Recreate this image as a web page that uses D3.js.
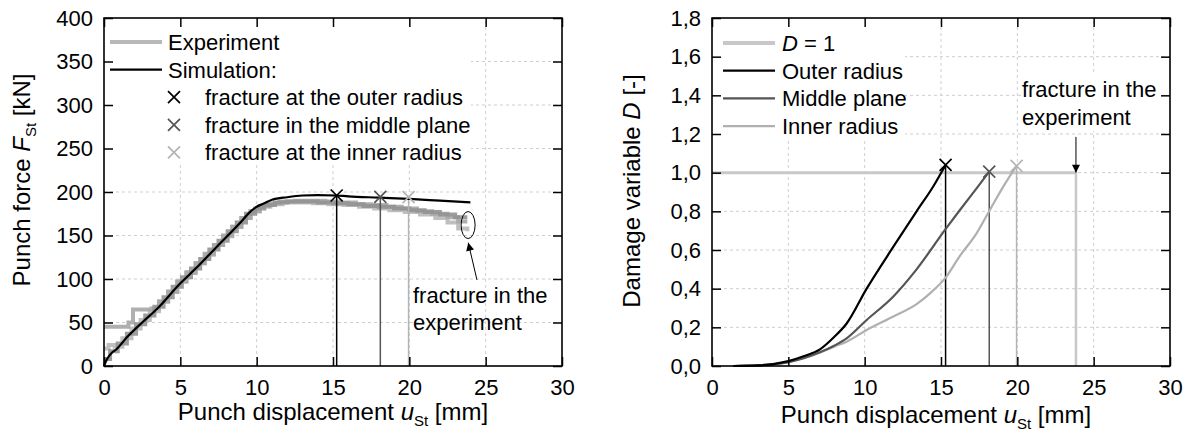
<!DOCTYPE html>
<html>
<head>
<meta charset="utf-8">
<script src="https://cdn.jsdelivr.net/npm/d3@7"></script>
<style>
  html, body { margin: 0; padding: 0; background: #fff; }
  svg { display: block; font-family: "Liberation Sans", Arial, sans-serif; }
</style>
</head>
<body>
<svg id="chart" width="1192" height="440"></svg>
<script>
// ---------------- DATA ----------------
const xTicks = [0, 5, 10, 15, 20, 25, 30];
const forceTicks = [0, 50, 100, 150, 200, 250, 300, 350, 400];
const damageTicks = [0, 0.2, 0.4, 0.6, 0.8, 1.0, 1.2, 1.4, 1.6, 1.8];
const damageTickLabels = ["0,0", "0,2", "0,4", "0,6", "0,8", "1,0", "1,2", "1,4", "1,6", "1,8"];

// Left chart: simulation force curve
const simX = [0, 0.2, 0.5, 0.8, 1.5, 2.5, 3.5, 5, 6, 7, 8, 9, 9.5, 10, 10.5, 11, 12, 13, 14, 15.2, 16, 18, 20, 22, 24];
const simF = [0, 8, 15, 19, 33, 50, 66, 95, 112, 130, 148, 166, 176, 183, 187, 191, 194, 196, 196.5, 196, 195, 193.5, 192, 190, 188];

// Left chart: experiments (step-sampled)
const expAX = [0, 0.4, 0.9, 1.5, 2.1, 2.7, 3.3, 3.9, 4.5, 5.1, 5.7, 6.3, 6.9, 7.5, 8.1, 8.7, 9.3, 9.9, 10.5, 11.2, 12.0, 13.0, 14.0, 15.0, 16.0, 17.0, 18.0, 19.0, 20.0, 21.0, 22.0, 23.0, 23.8];
const expAF = [8, 17, 26, 37, 48, 58, 68, 79, 91, 102, 112, 123, 134, 144, 155, 165, 175, 181, 185, 188, 189, 189, 188, 187, 186, 184, 183, 181, 179, 177, 174, 171, 171];
const expBX = [0, 1.6, 1.9, 3.1, 3.6, 4.2, 4.8, 5.4, 6.0, 6.6, 7.2, 7.8, 8.4, 9.0, 9.6, 10.2, 10.8, 11.5, 12.5, 13.5, 14.5, 15.5, 16.5, 17.5, 18.5, 19.5, 20.5, 21.5, 22.5, 23.2, 23.8];
const expBF = [45, 50, 65, 66, 74, 85, 97, 107, 118, 129, 139, 150, 160, 170, 178, 184, 187, 189, 190, 190, 189, 188, 186, 185, 183, 181, 178, 175, 171, 166, 166];
const expCX = [0, 0.3, 0.7, 1.2, 1.8, 2.4, 3.0, 3.6, 4.2, 4.8, 5.4, 6.0, 6.6, 7.2, 7.8, 8.4, 9.0, 9.6, 10.2, 10.9, 11.7, 12.7, 13.7, 14.7, 15.7, 16.7, 17.7, 18.7, 19.7, 20.7, 21.7, 22.5, 23.2, 23.8];
const expCF = [20, 24, 22, 32, 43, 53, 63, 74, 86, 97, 108, 118, 128, 139, 149, 160, 170, 178, 183, 186, 188, 188, 187, 186, 185, 183, 181, 179, 177, 174, 170, 165, 158, 155];

// Fracture points (left chart)
const fracU = [15.24, 18.1, 19.95];
const fracF = [196, 194.5, 194];

// Right chart: damage curves
const outerX = [1.4, 3, 4, 5, 6, 7.07, 8, 8.82, 10.13, 11.88, 13.4, 14.5, 15.3];
const outerD = [0, 0.003, 0.01, 0.025, 0.05, 0.086, 0.15, 0.22, 0.40, 0.617, 0.80, 0.93, 1.04];
const middleX = [1.4, 3, 4, 5, 6, 7.1, 8.0, 8.82, 10.13, 11.88, 13.4, 15.26, 16.24, 17.33, 18.16];
const middleD = [0, 0.003, 0.008, 0.02, 0.04, 0.072, 0.105, 0.143, 0.238, 0.36, 0.5, 0.704, 0.807, 0.919, 1.005];
const innerX = [1.4, 3, 4, 5, 6, 7.1, 8.0, 8.82, 10.13, 11.88, 13.4, 14.28, 15.26, 16.24, 17.33, 18.2, 19.08, 19.95];
const innerD = [0, 0.003, 0.008, 0.02, 0.04, 0.07, 0.1, 0.126, 0.186, 0.256, 0.32, 0.376, 0.453, 0.57, 0.686, 0.807, 0.928, 1.035];
const fracD = [1.04, 1.005, 1.035];
const fracUD = [15.3, 18.16, 19.95];
const expFractureU = 23.84;
const dOneLevel = 1.0;

const fracColors = ["#000000", "#555555", "#b4b4b4"];
const leftLegend = ["Experiment", "Simulation:", "fracture at the outer radius", "fracture in the middle plane", "fracture at the inner radius"];
const rightLegend = ["Outer radius", "Middle plane", "Inner radius"];

// ---------------- DRAW ----------------
const svg = d3.select("#chart");
svg.append("rect").attr("width", 1192).attr("height", 440).attr("fill", "#fff");
const FS = 22, TFS = 24;

function xCross(g, cx, cy, color) {
  const s = 6;
  g.append("path")
    .attr("d", `M${cx - s},${cy - s}L${cx + s},${cy + s}M${cx - s},${cy + s}L${cx + s},${cy - s}`)
    .attr("stroke", color).attr("stroke-width", 1.7).attr("fill", "none");
}

function frame(xs, ys, yTickVals, yFmt) {
  const g = svg.append("g");
  const [x0, x1] = xs.range();
  const [y0, y1] = ys.range();
  g.append("g").attr("transform", `translate(0,${y0})`)
    .call(d3.axisBottom(xs).tickValues(xTicks).tickSizeInner(-9).tickSizeOuter(0).tickPadding(13.5));
  g.append("g").attr("transform", `translate(0,${y1})`)
    .call(d3.axisTop(xs).tickValues(xTicks).tickSizeInner(-9).tickSizeOuter(0).tickFormat(""));
  g.append("g").attr("transform", `translate(${x0},0)`)
    .call(d3.axisLeft(ys).tickValues(yTickVals).tickSizeInner(-9).tickSizeOuter(0).tickPadding(11).tickFormat(yFmt));
  g.append("g").attr("transform", `translate(${x1},0)`)
    .call(d3.axisRight(ys).tickValues(yTickVals).tickSizeInner(-9).tickSizeOuter(0).tickFormat(""));
  g.selectAll(".tick line").attr("stroke", "#000").attr("stroke-width", 1.5);
  g.selectAll(".domain").attr("stroke", "none");
  g.selectAll(".tick text").attr("font-size", FS).attr("fill", "#000").attr("font-family", '"Liberation Sans", Arial, sans-serif');
  g.append("rect").attr("x", x0).attr("y", y1).attr("width", x1 - x0).attr("height", y0 - y1)
    .attr("fill", "none").attr("stroke", "#000").attr("stroke-width", 1.6);
}

function grid(xs, ys, yTickVals) {
  const g = svg.append("g").attr("stroke", "#cfcfcf").attr("stroke-width", 1).attr("stroke-dasharray", "3,3");
  const [x0, x1] = xs.range();
  const [y0, y1] = ys.range();
  xTicks.slice(1, -1).forEach(v => g.append("line").attr("x1", xs(v)).attr("x2", xs(v)).attr("y1", y0).attr("y2", y1));
  yTickVals.slice(1, -1).forEach(v => g.append("line").attr("x1", x0).attr("x2", x1).attr("y1", ys(v)).attr("y2", ys(v)));
}

// ===== LEFT CHART =====
const xL = d3.scaleLinear().domain([0, 30]).range([104, 562]);
const yL = d3.scaleLinear().domain([0, 400]).range([366, 18]);
grid(xL, yL, forceTicks);
svg.append("rect").attr("x", 105).attr("y", 19).attr("width", 366).attr("height", 146).attr("fill", "#fff");

const expSeries = [
  { x: expCX, y: expCF, c: "#b8b8b8" },
  { x: expBX, y: expBF, c: "#a6a6a6" },
  { x: expAX, y: expAF, c: "#929292" }
];
const stepLine = d3.line().x(d => xL(d[0])).y(d => yL(d[1])).curve(d3.curveStepAfter);
expSeries.forEach(s => {
  svg.append("path").datum(s.x.map((v, i) => [v, s.y[i]]))
    .attr("d", stepLine).attr("fill", "none").attr("stroke", s.c).attr("stroke-width", 4)
    .attr("stroke-opacity", 0.9);
});

fracU.forEach((u, i) => {
  svg.append("line").attr("x1", xL(u)).attr("x2", xL(u)).attr("y1", yL(fracF[i])).attr("y2", yL(0))
    .attr("stroke", fracColors[i]).attr("stroke-width", 1.5);
});
const simLine = d3.line().x(d => xL(d[0])).y(d => yL(d[1])).curve(d3.curveMonotoneX);
svg.append("path").datum(simX.map((v, i) => [v, simF[i]]))
  .attr("d", simLine).attr("fill", "none").attr("stroke", "#000").attr("stroke-width", 2.2);
fracU.forEach((u, i) => xCross(svg, xL(u), yL(fracF[i]), fracColors[i]));

svg.append("ellipse").attr("cx", xL(23.85)).attr("cy", yL(162)).attr("rx", 7).attr("ry", 13.5)
  .attr("fill", "none").attr("stroke", "#000").attr("stroke-width", 1);
const defs = svg.append("defs");
defs.append("marker").attr("id", "ah").attr("viewBox", "0 0 10 10").attr("refX", 10).attr("refY", 5)
  .attr("markerWidth", 12).attr("markerHeight", 8).attr("markerUnits", "userSpaceOnUse").attr("orient", "auto")
  .append("path").attr("d", "M0,0L10,5L0,10Z").attr("fill", "#000");
svg.append("line").attr("x1", xL(24.43)).attr("y1", yL(99)).attr("x2", xL(23.86)).attr("y2", yL(141.7))
  .attr("stroke", "#000").attr("stroke-width", 1).attr("marker-end", "url(#ah)");
svg.append("text").attr("x", xL(20.24)).attr("y", yL(72.4)).attr("font-size", FS).text("fracture in the");
svg.append("text").attr("x", xL(20.24)).attr("y", yL(41.5)).attr("font-size", FS).text("experiment");

frame(xL, yL, forceTicks, d3.format("d"));

const lg = svg.append("g");
const lRow = i => 42 + i * 27.6;
lg.append("line").attr("x1", 110).attr("x2", 162).attr("y1", lRow(0)).attr("y2", lRow(0)).attr("stroke", "#b8b8b8").attr("stroke-width", 4);
lg.append("line").attr("x1", 110).attr("x2", 162).attr("y1", lRow(1)).attr("y2", lRow(1)).attr("stroke", "#000").attr("stroke-width", 2.2);
lg.append("text").attr("x", 168).attr("y", lRow(0) + 8).attr("font-size", FS).text(leftLegend[0]);
lg.append("text").attr("x", 168).attr("y", lRow(1) + 8).attr("font-size", FS).text(leftLegend[1]);
for (let i = 0; i < 3; i++) {
  xCross(lg, 174, lRow(i + 2), fracColors[i]);
  lg.append("text").attr("x", 205).attr("y", lRow(i + 2) + 8).attr("font-size", FS).text(leftLegend[i + 2]);
}

const ltY = svg.append("text").attr("transform", "translate(30,180) rotate(-90)").attr("text-anchor", "middle").attr("font-size", TFS);
ltY.append("tspan").text("Punch force ");
ltY.append("tspan").attr("font-style", "italic").text("F");
ltY.append("tspan").attr("font-size", 15).attr("dy", 6).text("St");
ltY.append("tspan").attr("dy", -6).text(" [kN]");
const ltX = svg.append("text").attr("x", 333).attr("y", 420).attr("text-anchor", "middle").attr("font-size", TFS);
ltX.append("tspan").text("Punch displacement ");
ltX.append("tspan").attr("font-style", "italic").text("u");
ltX.append("tspan").attr("font-size", 15).attr("dy", 6).text("St");
ltX.append("tspan").attr("dy", -6).text(" [mm]");

// ===== RIGHT CHART =====
const xR = d3.scaleLinear().domain([0, 30]).range([712, 1170]);
const yR = d3.scaleLinear().domain([0, 1.8]).range([366, 18]);
grid(xR, yR, damageTicks);
svg.append("rect").attr("x", 713).attr("y", 19).attr("width", 192).attr("height", 121).attr("fill", "#fff");
svg.append("rect").attr("x", 1021).attr("y", 74).attr("width", 139).attr("height", 57).attr("fill", "#fff");

svg.append("line").attr("x1", xR(0)).attr("x2", xR(expFractureU)).attr("y1", yR(dOneLevel)).attr("y2", yR(dOneLevel))
  .attr("stroke", "#c8c8c8").attr("stroke-width", 3);
svg.append("line").attr("x1", xR(expFractureU)).attr("x2", xR(expFractureU)).attr("y1", yR(dOneLevel)).attr("y2", yR(0))
  .attr("stroke", "#c8c8c8").attr("stroke-width", 2.5);

const dLine = d3.line().x(d => xR(d[0])).y(d => yR(d[1])).curve(d3.curveMonotoneX);
const dSeries = [
  { x: innerX, y: innerD, c: "#b0b0b0" },
  { x: middleX, y: middleD, c: "#555555" },
  { x: outerX, y: outerD, c: "#000000" }
];
fracUD.forEach((u, i) => {
  svg.append("line").attr("x1", xR(u)).attr("x2", xR(u)).attr("y1", yR(fracD[i])).attr("y2", yR(0))
    .attr("stroke", fracColors[i]).attr("stroke-width", 1.5);
});
dSeries.forEach(s => {
  svg.append("path").datum(s.x.map((v, i) => [v, s.y[i]]))
    .attr("d", dLine).attr("fill", "none").attr("stroke", s.c).attr("stroke-width", 2.2);
});
fracUD.forEach((u, i) => xCross(svg, xR(u), yR(fracD[i]), fracColors[i]));

svg.append("line").attr("x1", xR(expFractureU)).attr("x2", xR(expFractureU)).attr("y1", yR(1.185)).attr("y2", yR(dOneLevel))
  .attr("stroke", "#000").attr("stroke-width", 1).attr("marker-end", "url(#ah)");
svg.append("text").attr("x", xR(20.3)).attr("y", yR(1.39)).attr("font-size", FS).text("fracture in the");
svg.append("text").attr("x", xR(20.3)).attr("y", yR(1.245)).attr("font-size", FS).text("experiment");

frame(xR, yR, damageTicks, d => damageTickLabels[damageTicks.indexOf(d)]);

const rg = svg.append("g");
const rRow = i => 43 + i * 27.7;
rg.append("line").attr("x1", 723).attr("x2", 775).attr("y1", rRow(0)).attr("y2", rRow(0)).attr("stroke", "#c8c8c8").attr("stroke-width", 4);
const t0 = rg.append("text").attr("x", 782).attr("y", rRow(0) + 8).attr("font-size", FS);
t0.append("tspan").attr("font-style", "italic").text("D");
t0.append("tspan").text(" = 1");
const rColors = ["#000000", "#555555", "#b0b0b0"];
rightLegend.forEach((t, i) => {
  rg.append("line").attr("x1", 723).attr("x2", 775).attr("y1", rRow(i + 1)).attr("y2", rRow(i + 1)).attr("stroke", rColors[i]).attr("stroke-width", 2.2);
  rg.append("text").attr("x", 782).attr("y", rRow(i + 1) + 8).attr("font-size", FS).text(t);
});

const rtY = svg.append("text").attr("transform", "translate(640,191) rotate(-90)").attr("text-anchor", "middle").attr("font-size", TFS);
rtY.append("tspan").text("Damage variable ");
rtY.append("tspan").attr("font-style", "italic").text("D");
rtY.append("tspan").text(" [-]");
const rtX = svg.append("text").attr("x", 936).attr("y", 423).attr("text-anchor", "middle").attr("font-size", TFS);
rtX.append("tspan").text("Punch displacement ");
rtX.append("tspan").attr("font-style", "italic").text("u");
rtX.append("tspan").attr("font-size", 15).attr("dy", 6).text("St");
rtX.append("tspan").attr("dy", -6).text(" [mm]");
</script>
</body>
</html>
